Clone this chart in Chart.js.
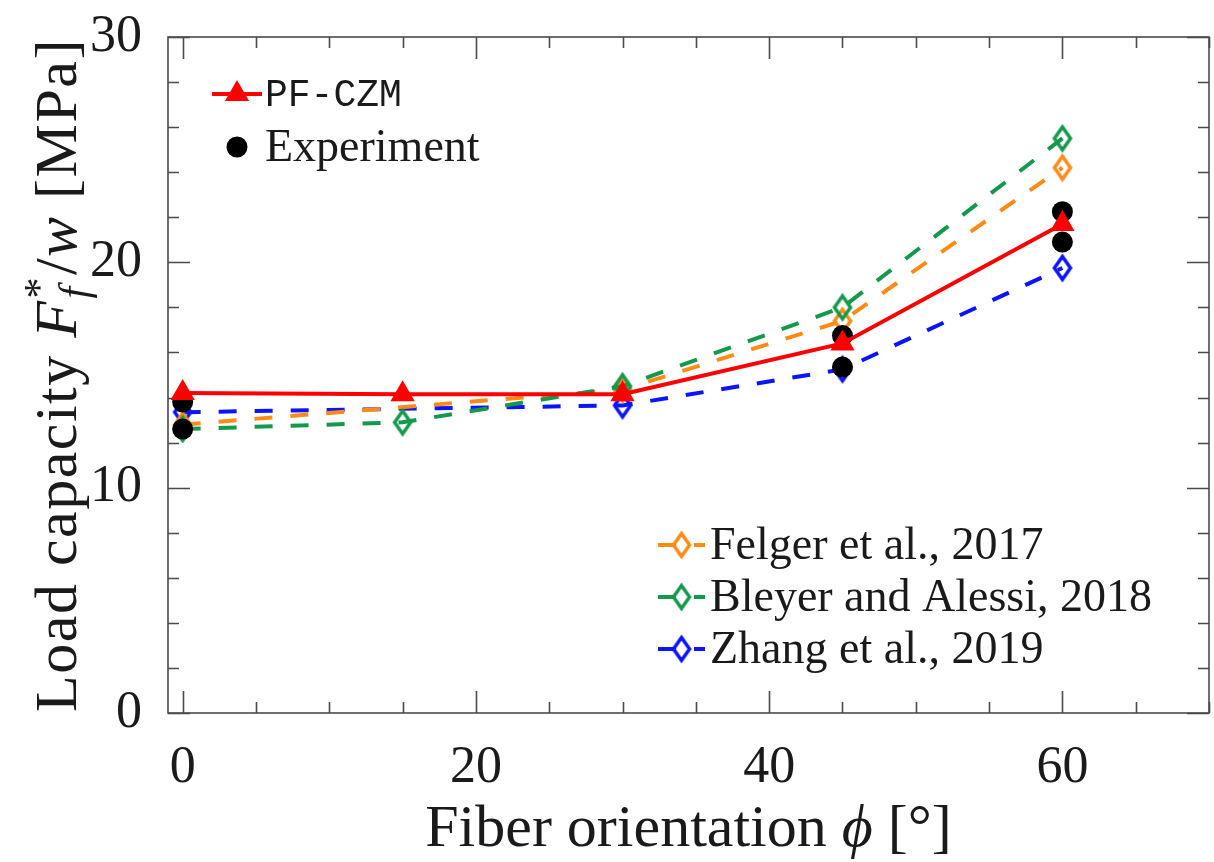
<!DOCTYPE html>
<html>
<head>
<meta charset="utf-8">
<script src="https://cdn.jsdelivr.net/npm/chart.js@4.4.1/dist/chart.umd.min.js"></script>
<style>
  html, body { margin: 0; padding: 0; background: #ffffff; }
  #wrap { width: 1214px; height: 862px; }
</style>
</head>
<body>
<div id="wrap"><canvas id="chart" width="1214" height="862"></canvas></div>
<script>
// Fiber orientation (degrees) at which each model was evaluated
const phiAll = [0, 15, 30, 45, 60];
const phiRef = [0, 30, 45, 60];

// Load capacity F*_f / w in MPa
const pfCzm  = [14.2, 14.15, 14.15, 16.4, 21.7];
const bleyer = [12.6, 12.9, 14.5, 18.0, 25.5];
const felger = [12.8, 14.35, 17.4, 24.2];
const zhang  = [13.35, 13.65, 15.25, 19.75];

// Experimental measurements (two specimens per orientation)
const expPhi  = [0, 0, 45, 45, 60, 60];
const expLoad = [13.8, 12.6, 16.75, 15.35, 22.25, 20.9];

// Labelled axis ticks
const xTicks = [0, 20, 40, 60];
const yTicks = [0, 10, 20, 30];
const xMinorStep = 5;
const yMinorStep = 2;

const serif = '"Liberation Serif", "Times New Roman", serif';
const mono = '"Liberation Mono", "DejaVu Sans Mono", monospace';
const ink = '#1a1a1a';
const axisInk = '#4a4a4a';

const pts = (xs, ys) => xs.map((x, i) => ({ x: x, y: ys[i] }));

const dashed = [18, 18];

// Hollow, slightly tall diamond marker
function diamondMarker(color) {
  const c = document.createElement('canvas');
  c.width = 24; c.height = 32;
  const g = c.getContext('2d');
  g.strokeStyle = color;
  g.lineWidth = 3.5;
  g.lineJoin = 'miter';
  g.beginPath();
  g.moveTo(12, 4.5); g.lineTo(20, 16); g.lineTo(12, 27.5); g.lineTo(4, 16);
  g.closePath();
  g.stroke();
  return c;
}

// Box around the plot area with inward ticks on all four sides
const framePlugin = {
  id: 'frame',
  beforeDatasetsDraw(chart) {
    const { ctx, chartArea: a, scales: { x, y } } = chart;
    ctx.save();
    ctx.strokeStyle = axisInk;
    ctx.lineWidth = 1.6;
    ctx.setLineDash([]);
    ctx.strokeRect(a.left, a.top, a.right - a.left, a.bottom - a.top);
    const major = 22, minor = 11;
    ctx.beginPath();
    for (let v = 0; v <= x.max; v += xMinorStep) {
      const px = Math.round(x.getPixelForValue(v)) + 0.5;
      const len = xTicks.includes(v) ? major : minor;
      ctx.moveTo(px, a.bottom); ctx.lineTo(px, a.bottom - len);
      ctx.moveTo(px, a.top); ctx.lineTo(px, a.top + len);
    }
    for (let v = 0; v <= y.max; v += yMinorStep) {
      const py = Math.round(y.getPixelForValue(v)) + 0.5;
      const len = yTicks.includes(v) ? major : minor;
      ctx.moveTo(a.left, py); ctx.lineTo(a.left + len, py);
      ctx.moveTo(a.right, py); ctx.lineTo(a.right - len, py);
    }
    ctx.stroke();
    ctx.restore();
  }
};

// Two legend blocks: model + experiment (top left), literature models (bottom right)
const legendPlugin = {
  id: 'twoLegends',
  afterDraw(chart) {
    const { ctx } = chart;
    const ds = chart.data.datasets;
    const blocks = [
      { x0: 212, x1: 262, tx: 265, rows: [[0, 94, mono, 38], [1, 147, serif, 46]] },
      { x0: 658, x1: 705, tx: 710, rows: [[2, 545, serif, 46], [3, 597, serif, 46], [4, 649, serif, 46]] }
    ];
    ctx.save();
    blocks.forEach(b => {
      b.rows.forEach(([i, yy, fam, size]) => {
        const d = ds[i];
        if (d.showLine !== false) {
          ctx.beginPath();
          ctx.setLineDash(d.borderDash || []);
          ctx.strokeStyle = d.borderColor;
          ctx.lineWidth = d.borderWidth;
          ctx.moveTo(b.x0, yy); ctx.lineTo(b.x1, yy);
          ctx.stroke();
        }
        ctx.setLineDash([]);
        ctx.fillStyle = d.pointBackgroundColor;
        ctx.strokeStyle = d.pointBorderColor;
        ctx.lineWidth = d.pointBorderWidth;
        Chart.helpers.drawPoint(ctx, {
          pointStyle: d.pointStyle, radius: d.pointRadius,
          borderWidth: d.pointBorderWidth, rotation: 0
        }, (b.x0 + b.x1) / 2, yy);
        ctx.fillStyle = ink;
        ctx.font = size + 'px ' + fam;
        ctx.textAlign = 'left';
        ctx.textBaseline = 'middle';
        ctx.fillText(d.label, b.tx, yy + 2);
      });
    });
    ctx.restore();
  }
};

// Axis titles with math-style runs (italic symbols, sub/superscripts)
function drawRuns(ctx, runs, cx, baseY, size) {
  const fontOf = (r, s) => (r.italic ? 'italic ' : '') + s + 'px ' + serif;
  const widthOf = r => {
    if (r.sup !== undefined) {
      ctx.font = fontOf({ italic: false }, size * 0.7);
      const w1 = ctx.measureText(r.sup).width;
      ctx.font = fontOf({ italic: true }, size * 0.7);
      const w2 = ctx.measureText(r.sub).width;
      return Math.max(w1, w2) + 2;
    }
    ctx.font = fontOf(r, size);
    return ctx.measureText(r.t).width;
  };
  const total = runs.reduce((s, r) => s + widthOf(r), 0);
  let x = cx - total / 2;
  ctx.textAlign = 'left';
  ctx.textBaseline = 'alphabetic';
  runs.forEach(r => {
    const w = widthOf(r);
    if (r.sup !== undefined) {
      ctx.font = fontOf({ italic: false }, size * 0.7);
      ctx.fillText(r.sup, x + 1, baseY - size * 0.38);
      ctx.font = fontOf({ italic: true }, size * 0.7);
      ctx.fillText(r.sub, x + 1, baseY + size * 0.2);
    } else {
      ctx.font = fontOf(r, size);
      ctx.fillText(r.t, x, baseY);
    }
    x += w;
  });
}

const titlePlugin = {
  id: 'axisTitles',
  afterDraw(chart) {
    const { ctx, chartArea: a } = chart;
    ctx.save();
    ctx.fillStyle = ink;
    drawRuns(ctx, [
      { t: 'Fiber orientation ' }, { t: '\u03D5', italic: true }, { t: ' [\u00B0]' }
    ], (a.left + a.right) / 2, 846, 60);
    ctx.translate(76, (a.top + a.bottom) / 2);
    ctx.rotate(-Math.PI / 2);
    ctx.letterSpacing = '1.5px';
    drawRuns(ctx, [
      { t: 'Load capacity ' }, { t: 'F', italic: true }, { sup: '*', sub: 'f' },
      { t: '/' }, { t: 'w', italic: true }, { t: ' [MPa]' }
    ], 0, 0, 60);
    ctx.restore();
  }
};

const modelLine = (label, xs, ys, color, extra) => Object.assign({
  label: label,
  data: pts(xs, ys),
  borderColor: color,
  backgroundColor: color,
  borderWidth: 4,
  borderDash: dashed,
  pointStyle: diamondMarker(color),
  pointRadius: 12,
  pointBorderWidth: 3.5,
  pointBorderColor: color,
  pointBackgroundColor: 'rgba(255,255,255,0)',
  tension: 0
}, extra || {});

new Chart(document.getElementById('chart'), {
  type: 'line',
  data: {
    datasets: [
      {
        label: 'PF-CZM', data: pts(phiAll, pfCzm),
        borderColor: '#ff0000', backgroundColor: '#ff0000', borderWidth: 4,
        pointStyle: 'triangle', pointRadius: 14, pointBorderWidth: 0,
        pointBorderColor: '#ff0000', pointBackgroundColor: '#ff0000', order: 0
      },
      {
        label: 'Experiment', data: pts(expPhi, expLoad), showLine: false,
        borderColor: '#000000', backgroundColor: '#000000',
        pointStyle: 'circle', pointRadius: 10.5, pointBorderWidth: 0,
        pointBorderColor: '#000000', pointBackgroundColor: '#000000', order: 1
      },
      modelLine('Felger et al., 2017', phiRef, felger, '#ff8a14', { order: 3 }),
      modelLine('Bleyer and Alessi, 2018', phiAll, bleyer, '#13994b', { order: 2 }),
      modelLine('Zhang et al., 2019', phiRef, zhang, '#0a14ff', { order: 4 })
    ]
  },
  options: {
    responsive: false,
    animation: false,
    events: [],
    layout: { autoPadding: false, padding: { top: 37, right: 5, left: 0, bottom: 0 } },
    plugins: { legend: { display: false }, tooltip: { enabled: false } },
    scales: {
      x: {
        type: 'linear', min: -1, max: 70,
        afterBuildTicks: s => { s.ticks = xTicks.map(v => ({ value: v })); },
        afterFit: s => { s.height = 149; s.paddingLeft = 0; s.paddingRight = 0; },
        grid: { display: false }, border: { display: false },
        ticks: { padding: 16, color: ink, maxRotation: 0, autoSkip: false,
                 font: { family: serif, size: 52 } }
      },
      y: {
        type: 'linear', min: 0, max: 30,
        afterBuildTicks: s => { s.ticks = yTicks.map(v => ({ value: v })); },
        afterFit: s => { s.width = 168; s.paddingTop = 0; s.paddingBottom = 0; },
        grid: { display: false }, border: { display: false },
        ticks: { padding: 18, color: ink, autoSkip: false,
                 font: { family: serif, size: 52 } }
      }
    }
  },
  plugins: [framePlugin, legendPlugin, titlePlugin]
});
</script>
</body>
</html>
